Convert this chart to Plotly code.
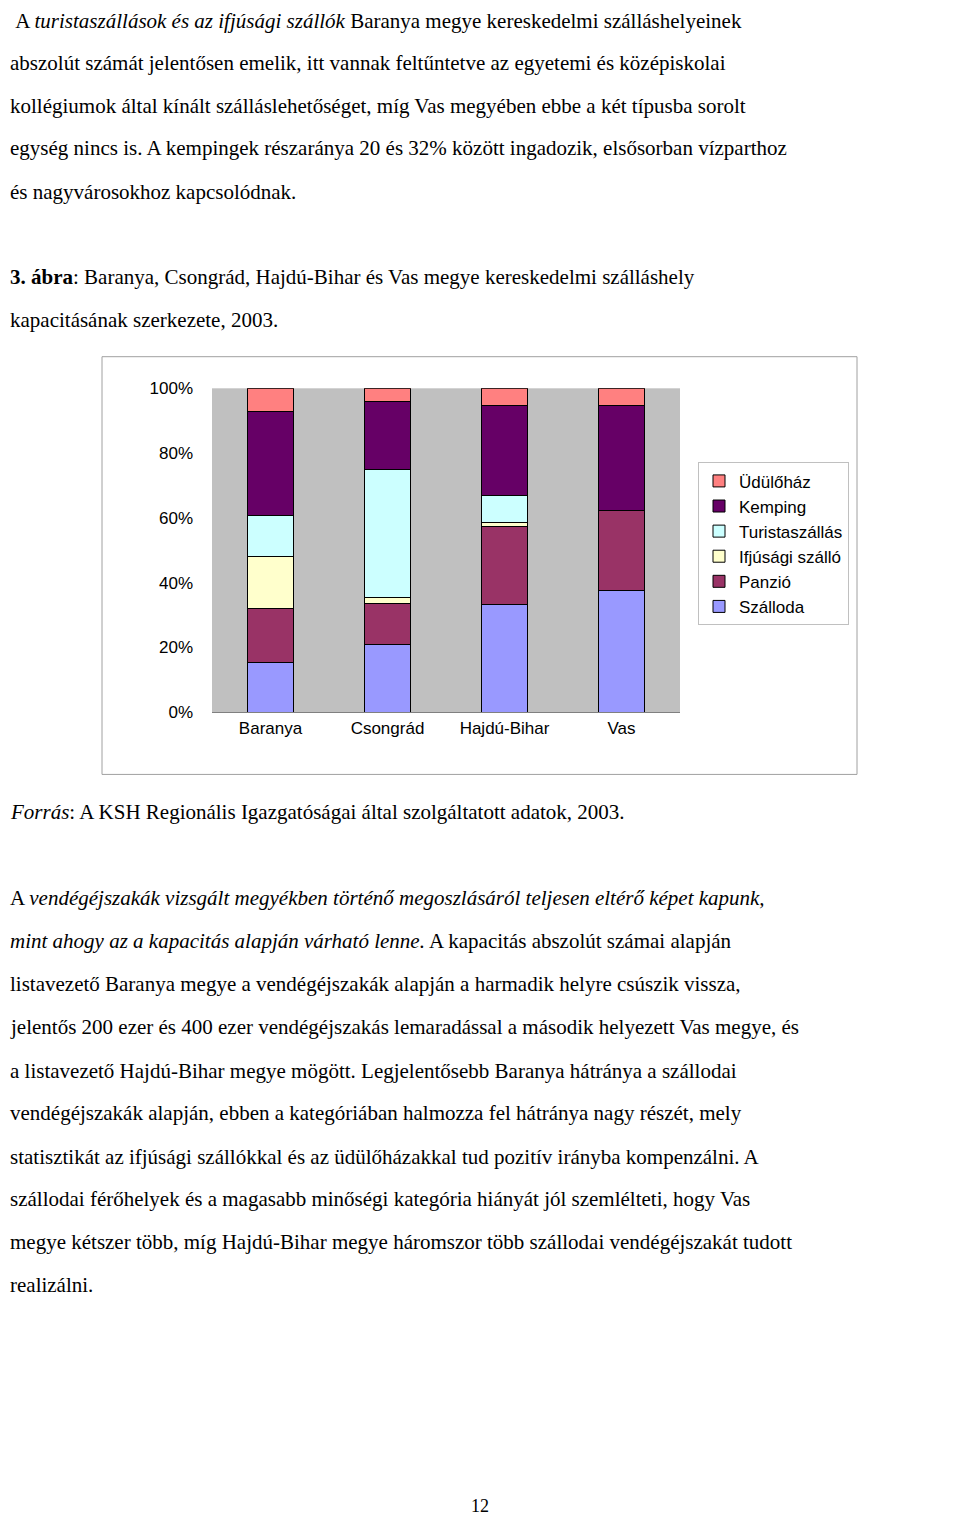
import plotly.graph_objects as go

megyek = ['Baranya', 'Csongrád', 'Hajdú-Bihar', 'Vas']
tipusok = ['Szálloda', 'Panzió', 'Ifjúsági szálló', 'Turistaszállás', 'Kemping', 'Üdülőház']
szalloda = [15.2, 21.0, 33.2, 37.5]
panzio = [16.8, 12.5, 24.1, 24.7]
ifjusagi = [16.2, 1.8, 1.2, 0.0]
turista = [12.5, 39.6, 8.5, 0.0]
kemping = [32.0, 21.0, 27.7, 32.6]
udulo = [7.3, 4.1, 5.3, 5.2]
szinek = ['#9999FF', '#993366', '#FFFFCC', '#CCFFFF', '#660066', '#FF8080']

# a böngésző 8px body margót tesz köré, ezért kisebb ábra
W, H = 944, 1521

def px(x):
    return (x - 8) / W

def py(y):
    return 1 - (y - 8) / H

fig = go.Figure()
for nev, ertek, szin in zip(tipusok, [szalloda, panzio, ifjusagi, turista, kemping, udulo], szinek):
    fig.add_trace(go.Bar(x=megyek, y=ertek, name=nev, marker_color=szin,
                         marker_line=dict(color='black', width=1), width=0.4))

fig.update_layout(
    width=W, height=H, margin=dict(l=0, r=0, t=0, b=0),
    paper_bgcolor='white', plot_bgcolor='#C0C0C0',
    barmode='stack', bargap=0.6,
    font=dict(family='Liberation Sans', size=17, color='black'),
    xaxis=dict(domain=[px(212), px(680)], showgrid=False, ticks='', showline=True,
               linecolor='#808080'),
    yaxis=dict(domain=[py(712), py(384)], range=[0, 100], tickvals=[0, 20, 40, 60, 80, 100],
               ticktext=['0%', '20%', '40%', '60%', '80%', '100%'], showgrid=False,
               zeroline=False, ticks='', ticklabelstandoff=18),
    legend=dict(x=px(698), y=py(459), xanchor='left', yanchor='top', traceorder='reversed',
                bordercolor='#C0C0C0', borderwidth=1, bgcolor='white',
                font=dict(size=17), itemwidth=30, tracegroupgap=0),
    showlegend=True,
)

fig.add_shape(type='rect', xref='paper', yref='paper', x0=px(102), x1=px(857),
              y0=py(775), y1=py(352), line=dict(color='#A0A0A0', width=1), layer='below')

serif = 'Liberation Serif'
sorok = [
    (12, '&nbsp;A <i>turistaszállások és az ifjúsági szállók</i> Baranya megye kereskedelmi szálláshelyeinek'),
    (55, 'abszolút számát jelentősen emelik, itt vannak feltűntetve az egyetemi és középiskolai'),
    (98, 'kollégiumok által kínált szálláslehetőséget, míg Vas megyében ebbe a két típusba sorolt'),
    (141, 'egység nincs is. A kempingek részaránya 20 és 32% között ingadozik, elsősorban vízparthoz'),
    (185, 'és nagyvárosokhoz kapcsolódnak.'),
    (271, '<b>3. ábra</b>: Baranya, Csongrád, Hajdú-Bihar és Vas megye kereskedelmi szálláshely'),
    (315, 'kapacitásának szerkezete, 2003.'),
    (813, '<i>Forrás</i>: A KSH Regionális Igazgatóságai által szolgáltatott adatok, 2003.'),
    (900, 'A <i>vendégéjszakák vizsgált megyékben történő megoszlásáról teljesen eltérő képet kapunk,</i>'),
    (944, '<i>mint ahogy az a kapacitás alapján várható lenne.</i> A kapacitás abszolút számai alapján'),
    (987, 'listavezető Baranya megye a vendégéjszakák alapján a harmadik helyre csúszik vissza,'),
    (1031, 'jelentős 200 ezer és 400 ezer vendégéjszakás lemaradással a második helyezett Vas megye, és'),
    (1075, 'a listavezető Hajdú-Bihar megye mögött. Legjelentősebb Baranya hátránya a szállodai'),
    (1118, 'vendégéjszakák alapján, ebben a kategóriában halmozza fel hátránya nagy részét, mely'),
    (1162, 'statisztikát az ifjúsági szállókkal és az üdülőházakkal tud pozitív irányba kompenzálni. A'),
    (1205, 'szállodai férőhelyek és a magasabb minőségi kategória hiányát jól szemlélteti, hogy Vas'),
    (1249, 'megye kétszer több, míg Hajdú-Bihar megye háromszor több szállodai vendégéjszakát tudott'),
    (1292, 'realizálni.'),
]
for y, szoveg in sorok:
    fig.add_annotation(xref='paper', yref='paper', x=0, y=py(y), xanchor='left',
                       yanchor='middle', text=szoveg, showarrow=False,
                       font=dict(family=serif, size=21))
fig.add_annotation(xref='paper', yref='paper', x=px(480), y=py(1528), text='12',
                   showarrow=False, font=dict(family=serif, size=18))

fig.write_html('out.html')
